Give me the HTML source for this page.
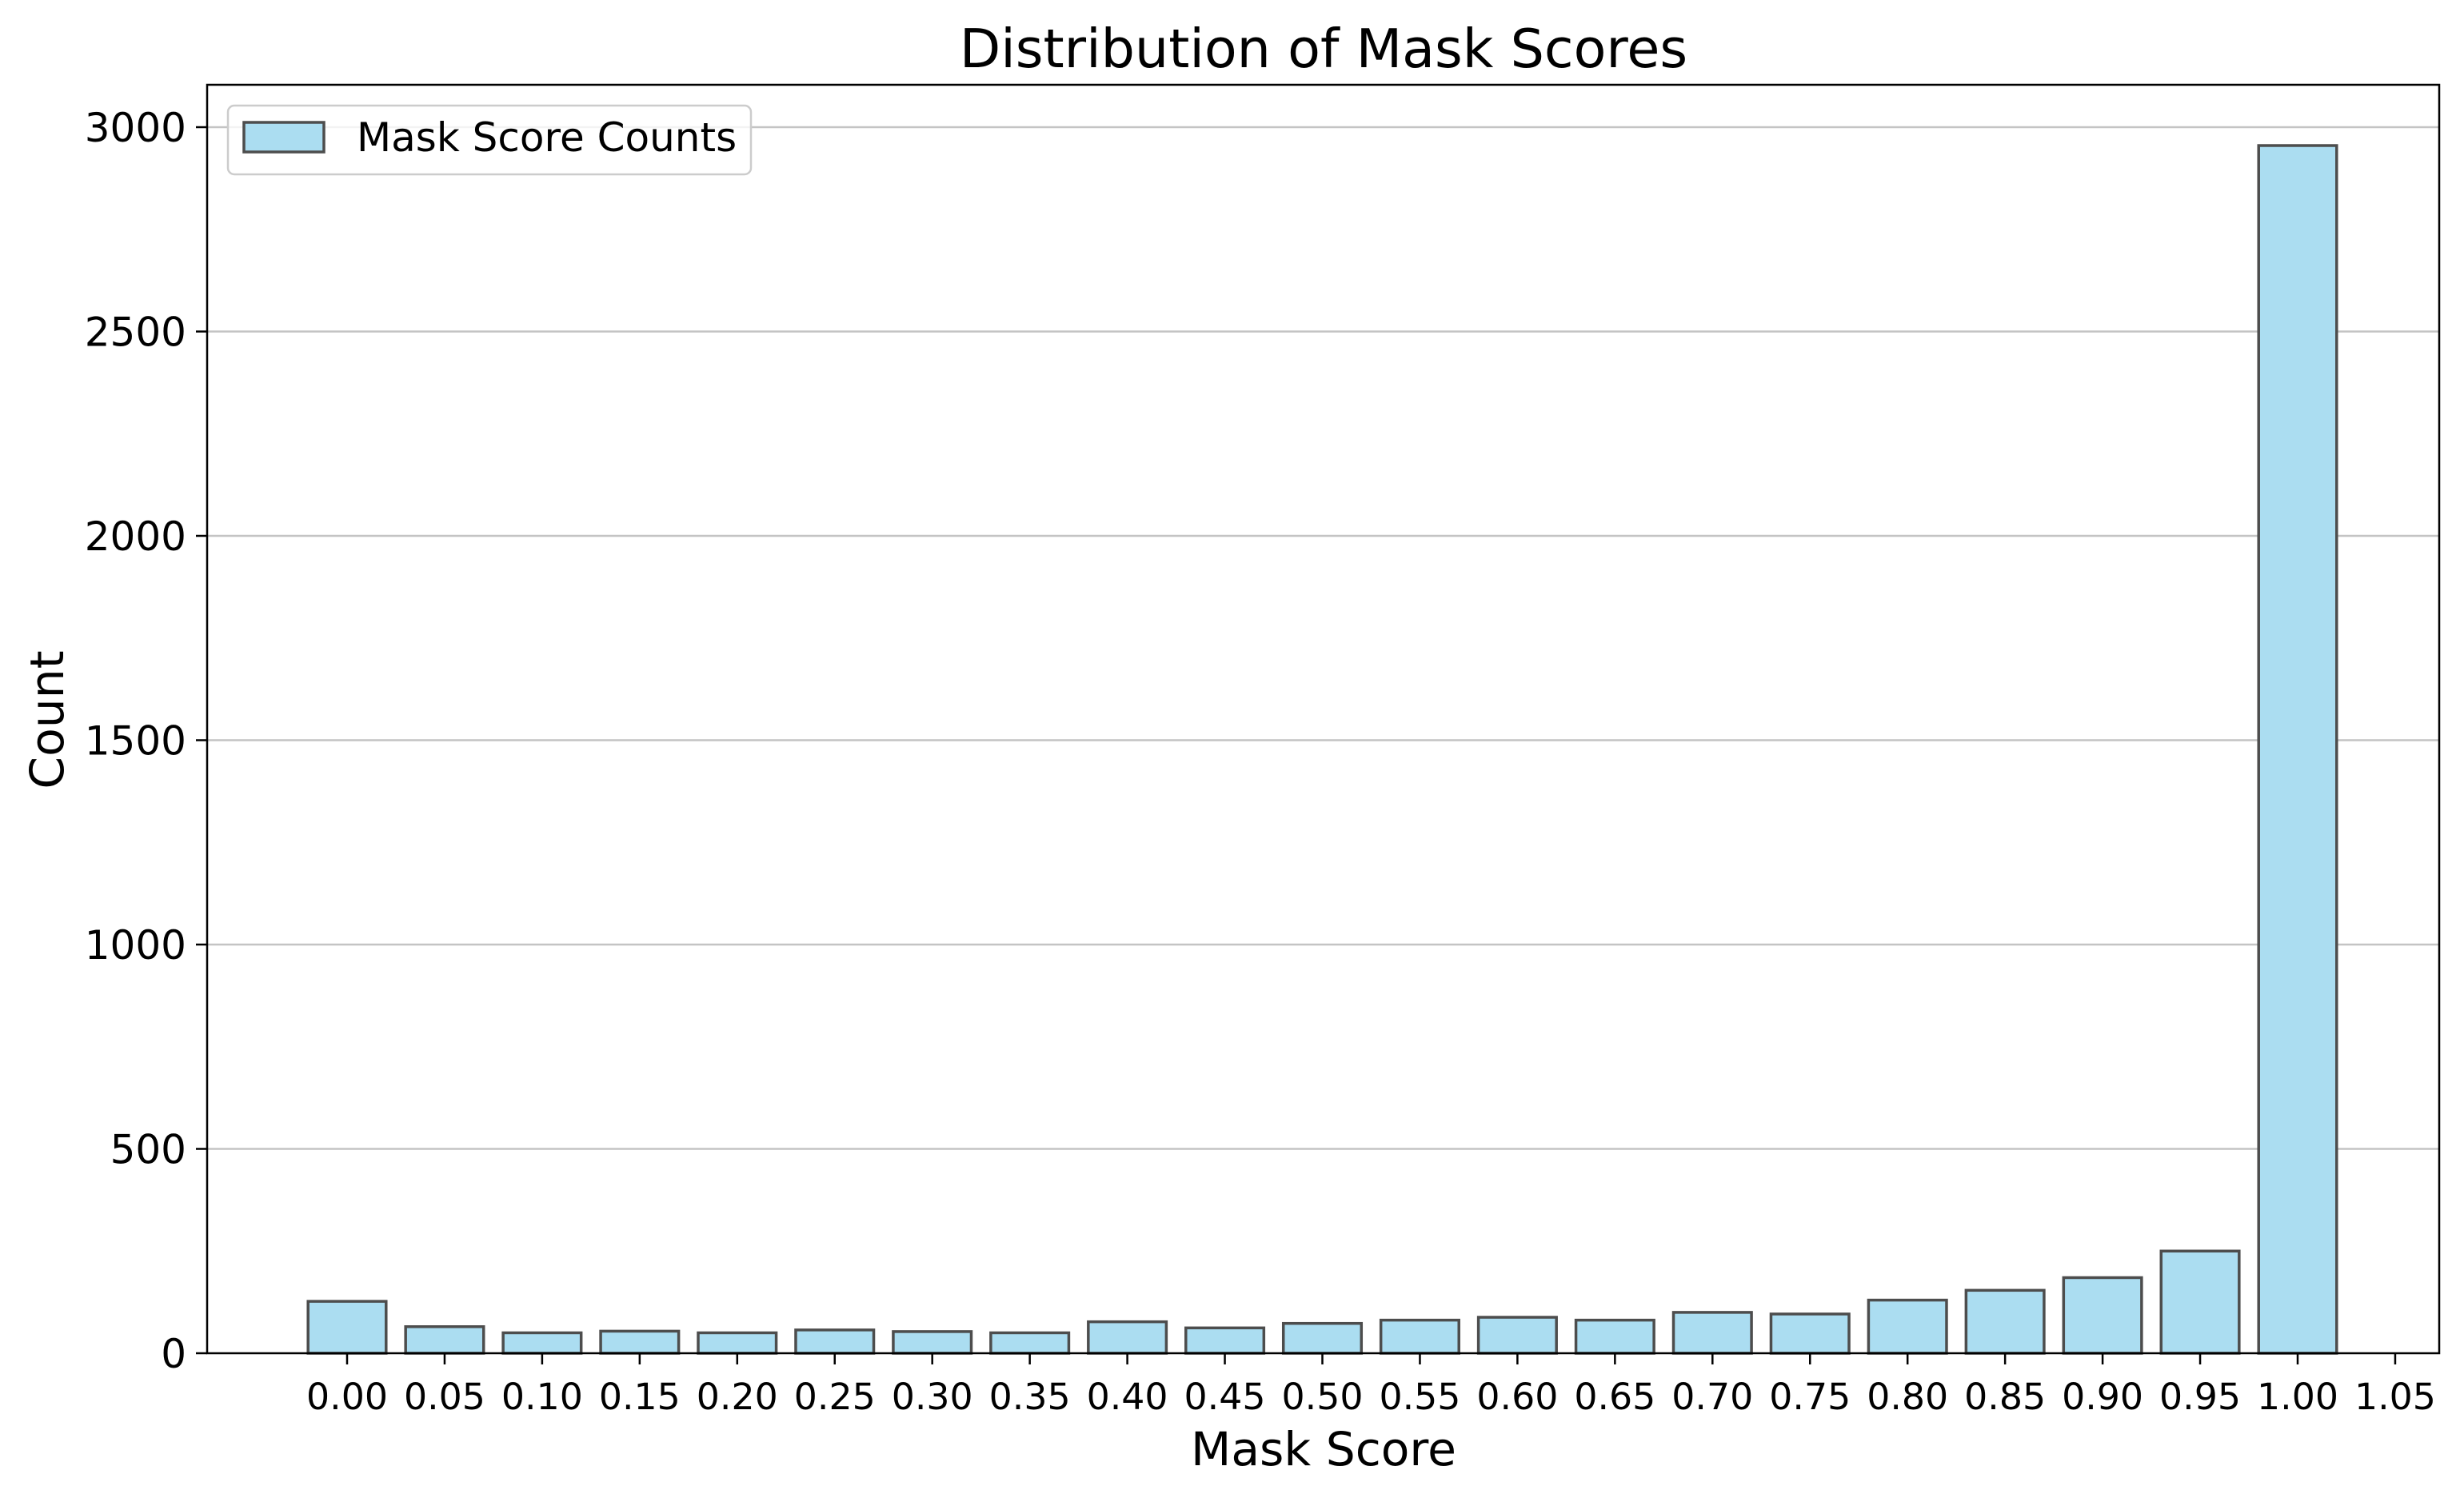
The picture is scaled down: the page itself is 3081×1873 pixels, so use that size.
<!DOCTYPE html>
<html><head><meta charset="utf-8">
<style>
html,body{margin:0;padding:0;background:#fff;}
svg{display:block;font-family:"DejaVu Sans","Liberation Sans",sans-serif;}
</style></head>
<body>
<svg id="chart" xmlns="http://www.w3.org/2000/svg" width="3081" height="1873" viewBox="0 0 3081 1873">
<rect width="3081" height="1873" fill="#fff"/>
<g id="grid"></g>
<g id="bars"></g>
<g id="axes"></g>
<text x="1655" y="84" font-size="66.7" text-anchor="middle" fill="#000">Distribution of Mask Scores</text>
<text x="1655" y="1832" font-size="58.3" text-anchor="middle" fill="#000">Mask Score</text>
<text x="0" y="0" font-size="58.3" text-anchor="middle" fill="#000" transform="translate(79,900) rotate(-90)">Count</text>
<g>
<rect x="285" y="132" width="654" height="86" rx="8" fill="#fff" fill-opacity="0.8" stroke="#ccc" stroke-width="2.5"/>
<rect x="305" y="153" width="100" height="37" fill="#abddf1" stroke="#4d4d4d" stroke-width="3.5"/>
<text x="446" y="189" font-size="50" fill="#000">Mask Score Counts</text>
</g>
</svg>
<script>
const categories = ["0.00","0.05","0.10","0.15","0.20","0.25","0.30","0.35","0.40","0.45","0.50","0.55","0.60","0.65","0.70","0.75","0.80","0.85","0.90","0.95","1.00"];
const counts = [127,65,50,54,50,57,53,50,77,62,73,81,88,81,100,96,130,154,185,250,2955];
const xTickLabels = ["0.00","0.05","0.10","0.15","0.20","0.25","0.30","0.35","0.40","0.45","0.50","0.55","0.60","0.65","0.70","0.75","0.80","0.85","0.90","0.95","1.00","1.05"];
const yTicks = [0,500,1000,1500,2000,2500,3000];

const NS = "http://www.w3.org/2000/svg";
const L = 259, R = 3050, T = 106, B = 1692;
function xScale(v){ return 434 + (v / 0.05) * 121.95; }
function yScale(v){ return B - v * (1533 / 3000); }
function mk(tag, attrs, parent){ const e = document.createElementNS(NS, tag); for (const k in attrs) e.setAttribute(k, attrs[k]); parent.appendChild(e); return e; }

const grid = document.getElementById('grid');
const bars = document.getElementById('bars');
const axes = document.getElementById('axes');

yTicks.forEach(t => {
  const y = yScale(t);
  if (t > 0) {
    const g = mk('line', {x1: L, x2: R, y1: y, y2: y, stroke: '#c4c4c4', 'stroke-width': 2.5}, grid);
    
    
  }
  const tk = mk('line', {x1: L - 14, x2: L, y1: y, y2: y, stroke: '#000', 'stroke-width': 2.5}, axes);
  
  
  const lb = mk('text', {x: L - 26, y: y + 18, 'font-size': 50, 'text-anchor': 'end', fill: '#000'}, axes);
  lb.textContent = t;
  
  
});

const bw = 0.04 / 0.05 * 121.95;
categories.forEach((c, i) => {
  const cx = xScale(parseFloat(c));
  const y = yScale(counts[i]);
  const r = mk('rect', {x: cx - bw / 2, y: y, width: bw, height: B - y, fill: '#abddf1', stroke: '#4d4d4d', 'stroke-width': 3.5}, bars);
  
  
});

xTickLabels.forEach(lbl => {
  const x = xScale(parseFloat(lbl));
  const tk = mk('line', {x1: x, x2: x, y1: B, y2: B + 14, stroke: '#000', 'stroke-width': 2.5}, axes);
  
  
  const t = mk('text', {x: x, y: B + 70, 'font-size': 45.8, 'text-anchor': 'middle', fill: '#000'}, axes);
  t.textContent = lbl;
  
  
});

const frame = mk('rect', {x: L, y: T, width: R - L, height: B - T, fill: 'none', stroke: '#000', 'stroke-width': 2.5}, axes);


</script>
</body></html>
